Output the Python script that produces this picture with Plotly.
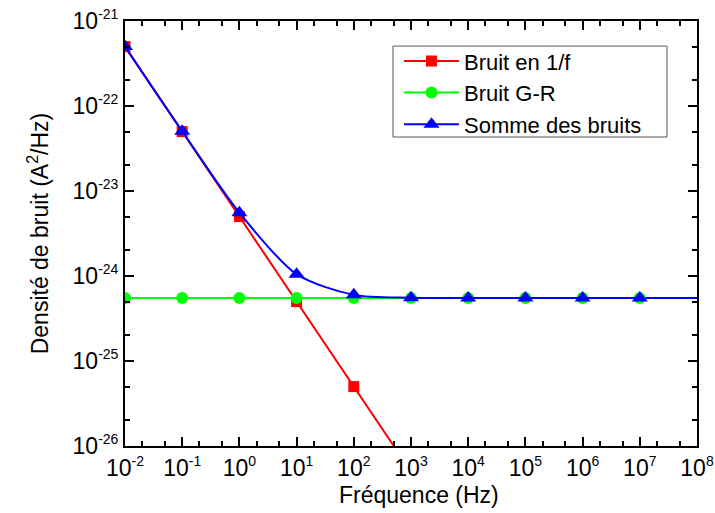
import plotly.graph_objects as go

freq = [1e-2, 1e-1, 1e0, 1e1, 1e2, 1e3, 1e4, 1e5, 1e6, 1e7, 1e8]
bruit_1f = [5e-22, 5e-23, 5e-24, 5e-25, 5e-26, 5e-27]
bruit_gr = [5.5e-25] * 11
somme = [5.0e-22, 5.05e-23, 5.55e-24, 1.05e-24, 6.0e-25, 5.55e-25, 5.5e-25, 5.5e-25, 5.5e-25, 5.5e-25, 5.5e-25]

FONT = "Liberation Sans, Arial"
RED, GREEN, BLUE = "#FF0000", "#00FF00", "#0000FF"

fig = go.Figure()
# line-only tails reaching the right edge (no markers there)
fig.add_trace(go.Scatter(x=freq[9:], y=bruit_gr[9:], mode="lines", showlegend=False,
                         line=dict(color=GREEN, width=2), hoverinfo="skip"))
fig.add_trace(go.Scatter(x=freq[9:], y=somme[9:], mode="lines", showlegend=False,
                         line=dict(color=BLUE, width=2), hoverinfo="skip"))

fig.add_trace(go.Scatter(x=freq[:6], y=bruit_1f, name="Bruit en 1/f", mode="lines+markers",
                         line=dict(color=RED, width=2),
                         marker=dict(symbol="square", size=11, color=RED)))
fig.add_trace(go.Scatter(x=freq[:10], y=bruit_gr[:10], name="Bruit G-R", mode="lines+markers",
                         line=dict(color=GREEN, width=2),
                         marker=dict(symbol="circle", size=12, color=GREEN)))
fig.add_trace(go.Scatter(x=freq[:10], y=somme[:10], name="Somme des bruits", mode="lines+markers",
                         line=dict(color=BLUE, width=2, shape="spline", smoothing=0.8),
                         marker=dict(symbol="triangle-up", size=14, color=BLUE)))

def sup_label(k):
    return f"10<sup><span style='font-size:14px'>{k}</span></sup>"

xt = [10.0 ** k for k in range(-2, 9)]
xtt = [sup_label(k) for k in range(-2, 9)]
yt = [10.0 ** k for k in range(-26, -20)]
ytt = [sup_label(k) for k in range(-26, -20)]

axis_common = dict(type="log", automargin=False, showgrid=False, zeroline=False, showline=True,
                   linecolor="black", linewidth=2, mirror="ticks", ticks="inside", ticklen=9,
                   tickwidth=2, tickcolor="black", ticklabeloverflow="allow",
                   tickfont=dict(family=FONT, size=23, color="black"),
                   minor=dict(ticks="inside", ticklen=5, tickwidth=1.5, tickcolor="black", showgrid=False))

fig.update_xaxes(range=[-2, 8], tickvals=xt, ticktext=xtt, **axis_common)
fig.update_yaxes(range=[-26, -21], tickvals=yt, ticktext=ytt,
                 title=dict(text="Densité de bruit (A<sup>2</sup>/Hz)", font=dict(family=FONT, size=23, color="black"), standoff=18),
                 **axis_common)

fig.add_annotation(text="Fréquence (Hz)", xref="paper", yref="paper", x=0.514, y=-0.115,
                   xanchor="center", yanchor="middle", showarrow=False,
                   font=dict(family=FONT, size=23, color="black"))

fig.add_shape(type="rect", xref="paper", yref="paper", x0=0.4685, x1=0.9476, y0=0.727, y1=0.941,
              line=dict(color="#555555", width=1), layer="above")

fig.update_layout(
    template="none",
    width=715, height=513,
    margin=dict(l=125, r=18, t=21, b=67),
    plot_bgcolor="white", paper_bgcolor="white",
    font=dict(family=FONT, color="black"),
    legend=dict(x=0.479, y=0.955, xanchor="left", yanchor="top",
                borderwidth=0, bgcolor="rgba(0,0,0,0)",
                font=dict(family=FONT, size=22, color="black"), tracegroupgap=0, itemwidth=55),
    showlegend=True,
)

fig.write_html("out.html", config={"displayModeBar": False},
               post_script="document.body.style.margin='0px';document.body.style.overflow='hidden';")
